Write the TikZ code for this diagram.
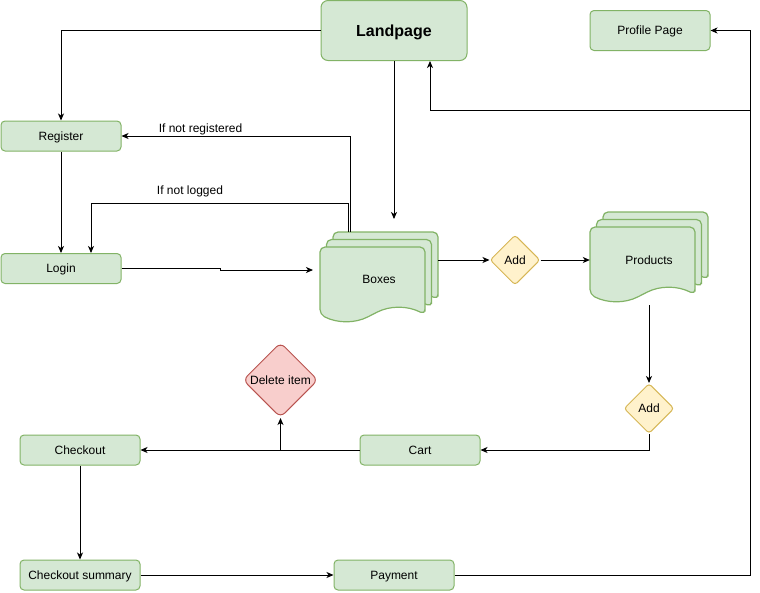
\documentclass[tikz,border=0pt]{standalone}
\usepackage{fontspec}
\setmainfont{Liberation Sans}
\usetikzlibrary{shapes.geometric,arrows.meta,calc}
\definecolor{gfill}{HTML}{D5E8D4}
\definecolor{gline}{HTML}{82B366}
\definecolor{yfill}{HTML}{FFF2CC}
\definecolor{yline}{HTML}{D6B656}
\definecolor{rfill}{HTML}{F8CECC}
\definecolor{rline}{HTML}{B85450}
\newcommand{\mydocshape}[4]{%
  \draw[docsty] ({#1+#3},{#2+#4-7.5}) -- ({#1+#3},#2) -- (#1,#2) -- (#1,{#2+#4-7.5})
    .. controls ({#1+#3/6},{#2+#4+1.5}) and ({#1+#3/3},{#2+#4+1.5}) .. ({#1+#3/2},{#2+#4-7.5})
    .. controls ({#1+2*#3/3},{#2+#4-16.5}) and ({#1+5*#3/6},{#2+#4-16.5}) .. ({#1+#3},{#2+#4-7.5}) -- cycle;}
\begin{document}
\begin{tikzpicture}[x=1pt,y=-1pt,
  every node/.style={font=\fontsize{12}{14}\selectfont,text height=8.5pt,text depth=0pt},
  box/.style={draw=gline,fill=gfill,line width=1pt,rounded corners=4pt,minimum width=120pt,minimum height=30pt,inner sep=0pt},
  docsty/.style={draw=gline,fill=gfill,line width=1.2pt,rounded corners=5pt},
  ydia/.style={diamond,aspect=1,draw=yline,fill=yfill,line width=1pt,rounded corners=3pt,minimum width=50pt,minimum height=50pt,inner sep=0pt},
  rdia/.style={diamond,aspect=1,draw=rline,fill=rfill,line width=1pt,rounded corners=6pt,minimum width=75pt,minimum height=75pt,inner sep=0pt},
  arr/.style={draw=black,line width=0.9pt,-{Stealth[length=7pt,width=6pt,inset=2pt]}},
  lbl/.style={inner sep=0pt}]
\useasboundingbox (0,0) rectangle (760,592);

% nodes
\node[box,minimum width=146pt,minimum height=60pt,rounded corners=7pt,font=\fontsize{16}{18}\selectfont\bfseries,text height=11.5pt] (landpage) at (394,30.5) {Landpage};
\node[box,minimum height=40pt] (profile) at (650,30.5) {Profile Page};
\node[box] (register) at (61,136) {Register};
\node[box] (login) at (61,268.5) {Login};

\mydocshape{333}{232}{105}{75}
\mydocshape{326.5}{239.5}{105}{75}
\mydocshape{320}{247}{105}{75}
\node[minimum width=118pt,minimum height=90pt,inner sep=0pt] (boxes) at (379,279) {Boxes};

\mydocshape{603}{212}{105}{75}
\mydocshape{596.5}{219.5}{105}{75}
\mydocshape{590}{227}{105}{75}
\node[minimum width=118pt,minimum height=90pt,inner sep=0pt] (products) at (649,260) {Products};

\node[ydia] (add1) at (515,260) {Add};
\node[ydia] (add2) at (649,408.5) {Add};
\node[rdia] (delete) at (280.5,380) {Delete item};

\node[box] (cart) at (420,450) {Cart};
\node[box] (checkout) at (80,450) {Checkout};
\node[box] (summary) at (80,575) {Checkout summary};
\node[box] (payment) at (394,575) {Payment};

\node[lbl] (lblreg) at (200.5,128) {If not registered};
\node[lbl] (lbllog) at (190,190) {If not logged};

% helper coordinates
\coordinate (boxin) at (394,219);
\coordinate (boxleft) at (313,270);
\coordinate (bxa) at (350.5,232);
\coordinate (bxb) at (348,232);
\coordinate (corner) at (750,110);
\coordinate (prodout) at (649,305);

% connectors
\draw[arr] (landpage.west) -| (register.north);
\draw[arr] (landpage.south) -- (boxin);
\draw[arr] (register.south) -- (login.north);
\draw[arr] (bxa) |- (register.east);
\draw[arr] (bxb) |- ($(login.north)+(30,-50)$) -- ($(login.north)+(30,0)$);
\draw[arr] (login.east) -- (220,268.5) -- (220,270) -- (boxleft);
\draw[arr] (boxes.east |- add1.west) -- (add1.west);
\draw[arr] (add1.east) -- (products.west |- add1.east);
\draw[arr] (prodout) -- (add2.north);
\draw[arr] (add2.south) |- (cart.east);
\draw[arr] (cart.west) -- (checkout.east);
\draw[arr] (delete.south |- cart.west) -- (delete.south);
\draw[arr] (checkout.south) -- (summary.north);
\draw[arr] (summary.east) -- (payment.west);
\draw[arr] (payment.east) -| (corner) -| ($(landpage.south)+(36,0)$);
\draw[arr] (corner) |- (profile.east);
\end{tikzpicture}
\end{document}
